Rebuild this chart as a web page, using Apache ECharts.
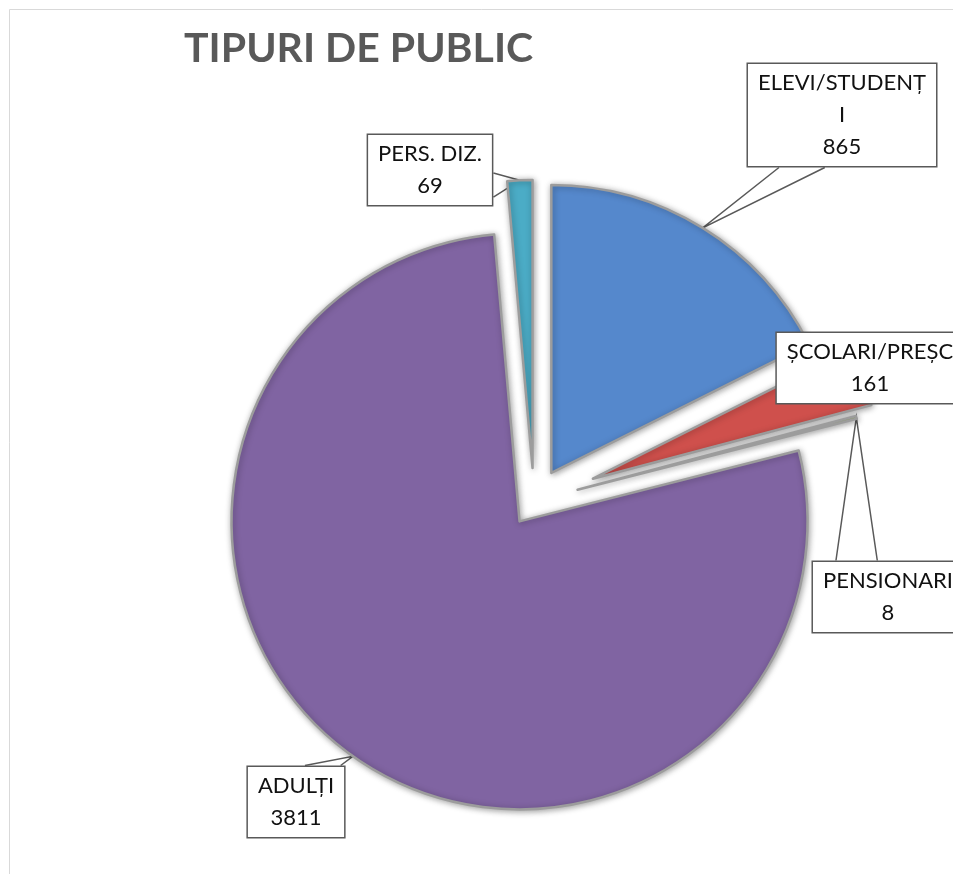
<!DOCTYPE html>
<html>
<head>
<meta charset="utf-8">
<title>Tipuri de public</title>
<script src="https://cdn.jsdelivr.net/npm/echarts@6/dist/echarts.min.js"></script>
<style>
  html, body { margin: 0; background: #fff; }
  #chart { width: 953px; height: 874px; }
</style>
</head>
<body>
<div id="chart"></div>
<script>
const categories = ['ELEVI/STUDENȚI', 'ȘCOLARI/PREȘC', 'PENSIONARI', 'ADULȚI', 'PERS. DIZ.'];
const values = [865, 161, 8, 3811, 69];

const colors = ['#5588cc', '#cf504c', '#9bbb59', '#8064a2', '#4bacc6'];
// how far each slice is pulled out of the pie (px), like the Excel explosion
const explode = [33, 63, 45, 25, 33];
// centre of each callout box
const labelSpots = [[842, 115], [870, 368], [888, 597], [296, 802], [430, 170]];
// which box side the callout wedge leaves from, and where along that side
const callouts = [['bottom', 0.17, 0.41], null, ['top', 0.16, 0.43], ['top', 0.59, 0.95], ['right', 0.54, 0.87]];
const pieCenter = [534, 501];

const chart = echarts.init(document.getElementById('chart'));

// direction of each slice's middle, so the whole slice can be pushed out along it
const total = values.reduce((a, b) => a + b, 0);
let before = 0;
const midAngles = values.map((v) => {
  const deg = 90 - ((before + v / 2) / total) * 360;
  before += v;
  return (deg * Math.PI) / 180;
});

function labelText(p) {
  // the first label was wrapped just before its last letter in the original
  const name = p.dataIndex === 0 ? p.name.slice(0, -1) + '\n' + p.name.slice(-1) : p.name;
  return name + '\n' + p.value;
}

function placeLabel(params) {
  const i = params.dataIndex;
  const [x, y] = labelSpots[i];
  const out = { x, y, align: 'center', verticalAlign: 'middle' };
  const c = callouts[i];
  if (c && params.labelLinePoints) {
    const w = params.labelRect.width;
    const h = params.labelRect.height;
    const left = x - w / 2;
    const top = y - h / 2;
    const [side, f1, f2] = c;
    const at = (f) => {
      if (side === 'top') return [left + w * f, top];
      if (side === 'bottom') return [left + w * f, top + h];
      if (side === 'right') return [left + w, top + h * f];
      return [left, top + h * f];
    };
    // wedge: box edge -> point on the slice -> box edge
    out.labelLinePoints = [at(f1), params.labelLinePoints[0], at(f2)];
  }
  return out;
}

// one pie per slice so every slice can get its own explosion distance;
// the other slices of that pie are left transparent
const series = categories.map((_, own) => ({
  type: 'pie',
  center: [
    pieCenter[0] + Math.cos(midAngles[own]) * explode[own],
    pieCenter[1] - Math.sin(midAngles[own]) * explode[own],
  ],
  radius: 288,
  startAngle: 90,
  clockwise: true,
  avoidLabelOverlap: false,
  silent: true,
  animation: false,
  label: {
    show: true,
    position: 'outside',
    formatter: labelText,
    fontFamily: 'Lato',
    fontSize: 22,
    lineHeight: 32,
    color: '#111',
    align: 'center',
    backgroundColor: '#fff',
    borderColor: '#595959',
    borderWidth: 1.5,
    padding: [3, 10],
  },
  labelLine: {
    show: true,
    length: 20,
    length2: 12,
    lineStyle: { color: '#595959', width: 1.5 },
  },
  labelLayout: placeLabel,
  data: categories.map((name, i) => ({
    name,
    value: values[i],
    itemStyle: i === own
      ? {
          color: colors[i],
          borderColor: '#9c9c9c',
          borderWidth: 2.5,
          shadowBlur: 6,
          shadowColor: 'rgba(0, 0, 0, 0.35)',
          shadowOffsetX: 1,
          shadowOffsetY: 1,
        }
      : { color: 'rgba(0,0,0,0)', borderWidth: 0 },
    label: { show: i === own },
    labelLine: { show: i === own && i !== 1 },
  })),
}));

chart.setOption({
  backgroundColor: '#fff',
  title: {
    text: 'TIPURI DE PUBLIC',
    left: 179,
    top: 23,
    textStyle: {
      fontFamily: 'Lato',
      fontWeight: 'bold',
      fontSize: 41,
      color: '#595959',
    },
  },
  graphic: [
    {
      type: 'rect',
      silent: true,
      z: -10,
      shape: { x: 9.5, y: 9.5, width: 1200, height: 1200 },
      style: { fill: 'none', stroke: '#d9d9d9', lineWidth: 1 },
    },
  ],
  series,
});
</script>
</body>
</html>
